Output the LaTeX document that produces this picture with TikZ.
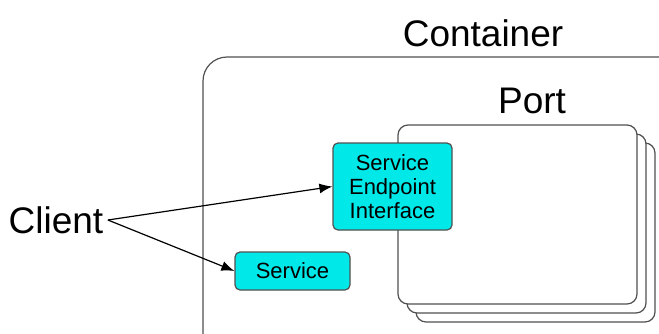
\documentclass[tikz,border=0pt]{standalone}
\usepackage{fontspec}
\setmainfont{Liberation Sans}
\usetikzlibrary{arrows.meta,positioning}
\definecolor{seicyan}{RGB}{0,232,232}
\definecolor{edgegray}{RGB}{80,80,80}

\begin{document}
\begin{tikzpicture}[x=0.5pt,y=-0.5pt,>={Latex[length=6.5pt,width=5pt]},line width=0.6pt,
    box/.style={draw=edgegray,fill=seicyan,rounded corners=2.5pt,align=center,
      inner sep=0pt,font=\fontsize{11}{12}\selectfont},
    big/.style={inner sep=2pt,font=\fontsize{18.5}{22}\selectfont}]
  \useasboundingbox (0,0) rectangle (659,333);
  \clip (0,0) rectangle (659,333);
  % container and port stack
  \draw[edgegray,rounded corners=12pt] (203,57) rectangle (720,400);
  \node[big] (cont) at (483,33) {Container};
  \node[big] (port) at (532,101) {Port};
  \foreach \d in {18,9,0}
    \draw[edgegray,fill=white,rounded corners=5pt] (398+\d,125+\d) rectangle (637+\d,304+\d);
  % endpoints
  \node[box,minimum width=59.5pt,minimum height=43.5pt] (sei) at (392.5,186.5) {Service\\Endpoint\\Interface};
  \node[box,minimum width=57.5pt,minimum height=19pt] (svc) at (292.5,271) {Service};
  \node[big] (client) at (56,220) {Client};
  \draw[->] (client.east)--(sei.west); \draw[->] (client.east)--(svc.west);
\end{tikzpicture}
\end{document}
